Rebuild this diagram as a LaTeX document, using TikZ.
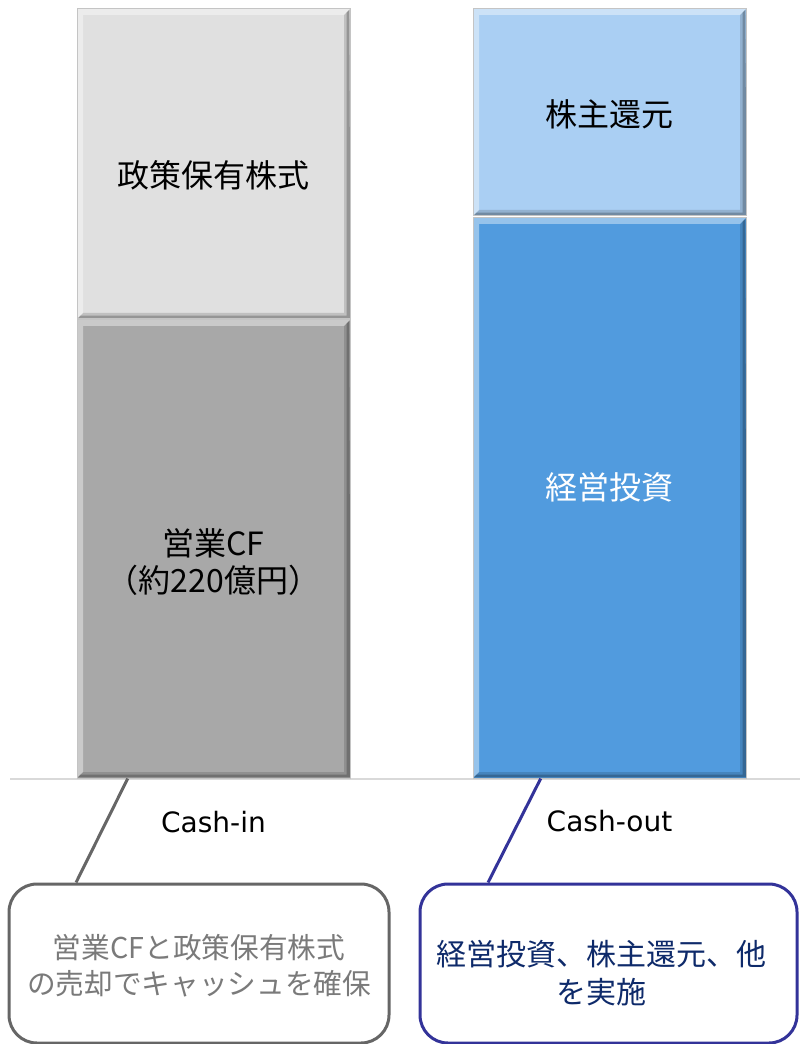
\documentclass[tikz,border=0pt]{standalone}
\usepackage{fontspec}
\setmainfont{Noto Sans CJK JP}
\newfontfamily\cashfont{DejaVu Sans}
\usetikzlibrary{positioning, fit, calc}

\definecolor{holdgray}{HTML}{E0E0E0}
\definecolor{cfgray}{HTML}{A8A8A8}
\definecolor{retblue}{HTML}{AACFF3}
\definecolor{invblue}{HTML}{519BDE}
\definecolor{framegray}{HTML}{C4C4C4}
\definecolor{axisgray}{HTML}{D9D9D9}
\definecolor{ingray}{HTML}{666666}
\definecolor{outnavy}{HTML}{333399}
\definecolor{notegray}{HTML}{7A7A7A}
\definecolor{notenavy}{HTML}{0E2A6A}

\tikzset{
	bevel/.style={path picture={
		\coordinate (bnw) at (path picture bounding box.north west);
		\coordinate (bne) at (path picture bounding box.north east);
		\coordinate (bsw) at (path picture bounding box.south west);
		\coordinate (bse) at (path picture bounding box.south east);
		\fill[white, opacity=.4] (bnw) -- (bne) -- ([shift={(-4.5pt,-4.5pt)}]bne) -- ([shift={(4.5pt,-4.5pt)}]bnw) -- ([shift={(4.5pt,4.5pt)}]bsw) -- (bsw) -- cycle;
		\fill[black, opacity=.14] (bse) -- (bsw) -- ([shift={(4.5pt,4.5pt)}]bsw) -- ([shift={(-4.5pt,4.5pt)}]bse) -- ([shift={(-4.5pt,-4.5pt)}]bne) -- (bne) -- cycle;
		\fill[black, opacity=.22] ([shift={(0.8pt,0.8pt)}]bse) -- ([shift={(0.8pt,0.8pt)}]bsw) -- ([shift={(2.6pt,2.6pt)}]bsw) -- ([shift={(-2.6pt,2.6pt)}]bse) -- ([shift={(-2.6pt,-2.6pt)}]bne) -- ([shift={(-0.8pt,-0.8pt)}]bne) -- cycle;
	}},
	bar/.style={draw=framegray, line width=0.75pt, inner sep=0pt, bevel},
	bartext/.style={text centered, font=\fontsize{24pt}{28pt}\selectfont},
	cashtext/.style={text centered, font=\cashfont\fontsize{21pt}{25pt}\selectfont},
	note/.style={draw, rounded corners=21pt, line width=2.25pt, inner sep=0pt, fill=white},
	link/.style={line width=2.25pt},
}

\begin{document}
\begin{tikzpicture}[x=0.75pt, y=-0.75pt]
	\clip (0,0) rectangle (800,1044);

	% axis %
	\coordinate (axl) at (10,779);
	\coordinate (axr) at (800,779);
	\draw[axisgray, line width=1.2pt] (axl) -- (axr);

	% bars %
	\node[bar, fill=holdgray, fit={(77,9) (350,319)}] (hold) {};
	\node[bar, fill=cfgray, fit={(77,320) (350,778)}] (opcf) {};
	\node[bar, fill=retblue, fit={(473,9) (746,216)}] (ret) {};
	\node[bar, fill=invblue, fit={(473,218) (746,778)}] (inv) {};

	\node[bartext] (holdtxt) at ([yshift=-8.25pt]hold.center) {政策保有株式};
	\node[bartext, align=center] (opcftxt) at ([yshift=-9.75pt]opcf.center) {営業CF\\（約220億円）};
	\node[bartext] (rettxt) at ([yshift=-1pt]ret.center) {株主還元};
	\node[bartext, text=white] (invtxt) at ([yshift=8pt]inv.center) {経営投資};

	\node[cashtext] (cashin) at ($(opcf.south)+(0,44)$) {Cash-in};
	\node[cashtext] (cashout) at ($(inv.south)+(0,43)$) {Cash-out};

	% notes %
	\node[note, draw=ingray, fit={(9,884) (389,1043)}] (innote) {};
	\node[note, draw=outnavy, fit={(420,884) (797,1043)}] (outnote) {};

	\node[text=notegray, align=center, font=\fontsize{21.5pt}{27pt}\selectfont] (innotetxt) at ([yshift=-1.5pt]innote.center) {営業CFと政策保有株式\\の売却でキャッシュを確保};
	\node[text=notenavy, align=center, font=\fontsize{22.5pt}{28.5pt}\selectfont] (outnotetxt) at ([xshift=-5.6pt, yshift=-7pt]outnote.center) {経営投資、株主還元、他\\を実施};

	% edges %
	\draw[link, ingray] ($(opcf.south west)!0.187!(opcf.south east)$) -- ($(innote.north west)!0.179!(innote.north east)$);
	\draw[link, outnavy] ($(inv.south west)!0.249!(inv.south east)$) -- ($(outnote.north west)!0.183!(outnote.north east)$);
\end{tikzpicture}
\end{document}
